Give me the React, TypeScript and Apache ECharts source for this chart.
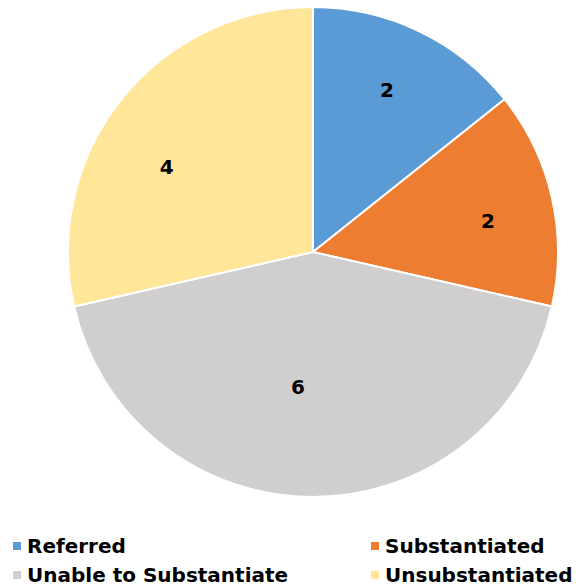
import React, { useEffect, useRef } from "react";
import * as echarts from "echarts";

const categories = ["Referred", "Substantiated", "Unable to Substantiate", "Unsubstantiated"];
const values = [2, 2, 6, 4];
const colors = ["#5B9BD5", "#ED7D31", "#D0CECE", "#FFE699"];
const leftLegend = ["Referred", "Unable to Substantiate"];
const rightLegend = ["Substantiated", "Unsubstantiated"];
const labelOffsets: Record<string, number[]> = {
  Referred: [-4, 0],
  Substantiated: [0, 9],
  "Unable to Substantiate": [-15, -45],
  Unsubstantiated: [-6, 27],
};

export default function App() {
  const ref = useRef<HTMLDivElement>(null);
  useEffect(() => {
    document.body.style.margin = "0";
    const chart = echarts.init(ref.current!, null, { renderer: "svg" });
    const data = categories.map((name, i) => ({ name, value: values[i], itemStyle: { color: colors[i] } }));
    const labelData = categories.map((name, i) => ({
      name,
      value: values[i],
      label: { offset: labelOffsets[name] },
    }));
    const legendText = { fontFamily: "DejaVu Sans", fontWeight: "bold", fontSize: 20, lineHeight: 20, color: "#000" };
    const legendBase = {
      orient: "vertical",
      top: 536,
      padding: 0,
      itemWidth: 10,
      itemHeight: 10,
      itemGap: 9,
      icon: "rect",
      textStyle: legendText,
      selectedMode: false,
    };
    chart.setOption({
      animation: false,
      color: colors,
      legend: [
        { ...legendBase, data: leftLegend, left: 11 },
        { ...legendBase, data: rightLegend, left: 369 },
      ],
      series: [
        {
          type: "pie",
          center: [313, 252],
          radius: [0, 245],
          startAngle: 90,
          clockwise: true,
          data,
          label: { show: false },
          labelLine: { show: false },
          itemStyle: { borderColor: "#fff", borderWidth: 2 },
          emphasis: { disabled: true },
        },
        {
          type: "pie",
          center: [313, 252],
          radius: [108, 245],
          startAngle: 90,
          clockwise: true,
          silent: true,
          data: labelData,
          itemStyle: { color: "rgba(0,0,0,0)", borderWidth: 0 },
          label: {
            show: true,
            position: "inside",
            formatter: "{c}",
            fontFamily: "DejaVu Sans",
            fontWeight: "bold",
            fontSize: 20,
            color: "#000",
          },
          labelLine: { show: false },
          emphasis: { disabled: true },
        },
      ],
    });
    return () => chart.dispose();
  }, []);
  return <div ref={ref} style={{ width: 576, height: 588 }} />;
}
